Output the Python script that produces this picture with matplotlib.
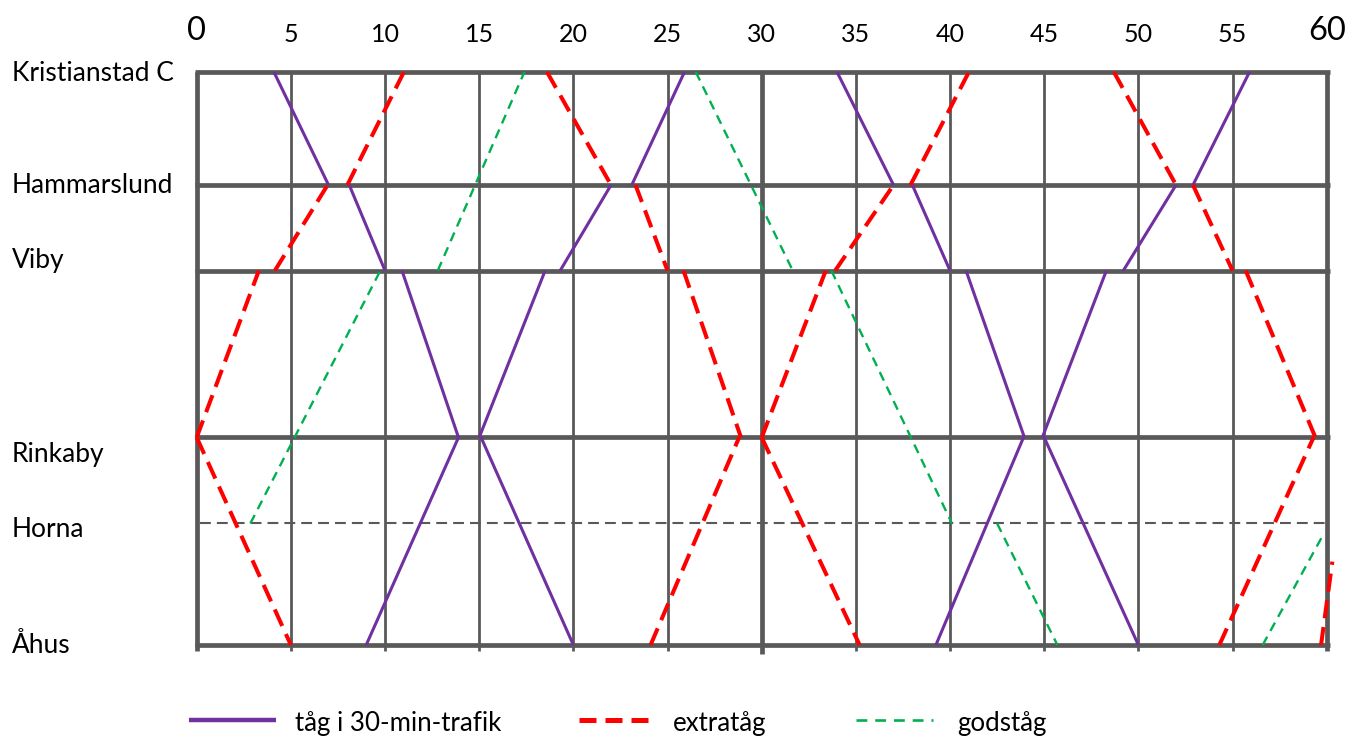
import matplotlib
matplotlib.use("Agg")
import matplotlib.pyplot as plt

plt.rcParams['font.family'] = ['Lato', 'DejaVu Sans']

# stationer och avstånd (km från Kristianstad C)
stations = ["Kristianstad C", "Hammarslund", "Viby", "Rinkaby", "Horna", "Åhus"]
station_km = [0.0, 3.55, 6.24, 11.48, 14.18, 18.0]
pos = dict(zip(stations, station_km))

minutes = list(range(0, 61, 5))

# (avgång, från, ankomst, till) - en rad per sträcka
purple_legs = [
    (4.1, "Kristianstad C", 7.0, "Hammarslund"),
    (8.1, "Hammarslund", 10.0, "Viby"),
    (10.9, "Viby", 13.9, "Rinkaby"),
    (15.1, "Rinkaby", 20.0, "Åhus"),
    (9.0, "Åhus", 13.9, "Rinkaby"),
    (15.0, "Rinkaby", 18.5, "Viby"),
    (19.3, "Viby", 22.0, "Hammarslund"),
    (23.1, "Hammarslund", 25.9, "Kristianstad C"),
    (34.0, "Kristianstad C", 37.0, "Hammarslund"),
    (38.0, "Hammarslund", 40.0, "Viby"),
    (40.85, "Viby", 43.95, "Rinkaby"),
    (45.0, "Rinkaby", 50.0, "Åhus"),
    (39.25, "Åhus", 43.9, "Rinkaby"),
    (44.9, "Rinkaby", 48.3, "Viby"),
    (49.2, "Viby", 52.0, "Hammarslund"),
    (52.9, "Hammarslund", 55.9, "Kristianstad C"),
]

red_legs = [
    (0.0, "Rinkaby", 3.3, "Viby"),
    (4.15, "Viby", 6.95, "Hammarslund"),
    (8.0, "Hammarslund", 11.0, "Kristianstad C"),
    (0.0, "Rinkaby", 5.0, "Åhus"),
    (18.6, "Kristianstad C", 22.0, "Hammarslund"),
    (23.3, "Hammarslund", 25.0, "Viby"),
    (25.85, "Viby", 28.9, "Rinkaby"),
    (30.0, "Rinkaby", 35.2, "Åhus"),
    (24.1, "Åhus", 28.8, "Rinkaby"),
    (30.0, "Rinkaby", 33.4, "Viby"),
    (33.9, "Viby", 37.0, "Hammarslund"),
    (37.9, "Hammarslund", 41.0, "Kristianstad C"),
    (48.7, "Kristianstad C", 52.0, "Hammarslund"),
    (52.9, "Hammarslund", 55.0, "Viby"),
    (55.7, "Viby", 59.4, "Rinkaby"),
    (54.3, "Åhus", 59.3, "Rinkaby"),
    (59.7, "Åhus", 60.3, 15.38),
]

green_legs = [
    (2.85, "Horna", 9.75, "Viby"),
    (12.8, "Viby", 17.4, "Kristianstad C"),
    (26.5, "Kristianstad C", 31.65, "Viby"),
    (33.7, "Viby", 40.1, "Horna"),
    (42.5, "Horna", 45.7, "Åhus"),
    (56.6, "Åhus", 59.8, 14.55),
]

legend_labels = ["tåg i 30-min-trafik", "extratåg", "godståg"]

label_dy = [9, 7.7, -2.7, 24.4, 13.7, 7.7]  # px under stationslinjen

GRID = '#595959'
PURPLE = '#7030A0'
RED = '#FF0000'
GREEN = '#00B050'

W, H = 1359, 738
fig = plt.figure(figsize=(W / 100, H / 100), dpi=100)
ax = fig.add_axes([196.7 / W, 1 - 645 / H, (1326.7 - 196.7) / W, (645 - 72) / H])
ax.set_xlim(0, 60)
ax.set_ylim(18.0, 0.0)
for sp in ax.spines.values():
    sp.set_visible(False)

# rutnät
for m in minutes:
    lw = 3.4 if m % 30 == 0 else 2.0
    ax.plot([m, m], [0, 18.28 if m == 30 else 18.2], color=GRID, lw=lw,
            solid_capstyle='butt', zorder=1, clip_on=False)
for name, km in zip(stations, station_km):
    if name == "Horna":
        ax.plot([0.2, 60.1], [km, km], color=GRID, lw=1.5, dashes=(5.2, 2.9),
                zorder=1, clip_on=False)
    else:
        ax.plot([-0.1, 60.2], [km, km], color=GRID, lw=3.4,
                solid_capstyle='butt', zorder=1, clip_on=False)


def y_of(s):
    return pos[s] if isinstance(s, str) else s


def draw(legs, **kw):
    for t0, s0, t1, s1 in legs:
        ax.plot([t0, t1], [y_of(s0), y_of(s1)], zorder=3, clip_on=False, **kw)


draw(purple_legs, color=PURPLE, lw=2.2, solid_capstyle='butt')
draw(red_legs, color=RED, lw=2.9, dashes=(4.5, 2.2))
draw(green_legs, color=GREEN, lw=1.7, dashes=(4.0, 2.8))

# tidsaxel överst
ax.xaxis.tick_top()
ax.set_xticks(minutes)
ax.set_xticklabels([str(m) for m in minutes])
ax.tick_params(axis='x', length=0, pad=19, labelsize=18)
for lbl in ax.get_xticklabels():
    if lbl.get_text() in ("0", "60"):
        lbl.set_fontsize(23.5)
ax.set_yticks([])

# stationsnamn
for name, km, dy in zip(stations, station_km, label_dy):
    y_px = 72 + km / 18.0 * 573 + dy
    fig.text(12 / W, 1 - y_px / H, name, fontsize=19, ha='left', va='baseline')

# teckenförklaring (pixelkoordinater)
lax = fig.add_axes([0, 0, 1, 1], zorder=-1)
lax.set_xlim(0, W)
lax.set_ylim(H, 0)
lax.axis('off')
lax.plot([189, 276], [720, 720], color=PURPLE, lw=3.2, solid_capstyle='butt')
lax.plot([579, 648], [720, 720], color=RED, lw=3.6, dashes=(3.4, 1.8))
lax.plot([856, 933], [720, 720], color=GREEN, lw=1.9, dashes=(4.1, 3.0))
for x, txt in zip([295, 673, 957], legend_labels):
    lax.text(x, 731, txt, fontsize=18.6, ha='left', va='baseline')

fig.savefig("out.png", dpi=100)
